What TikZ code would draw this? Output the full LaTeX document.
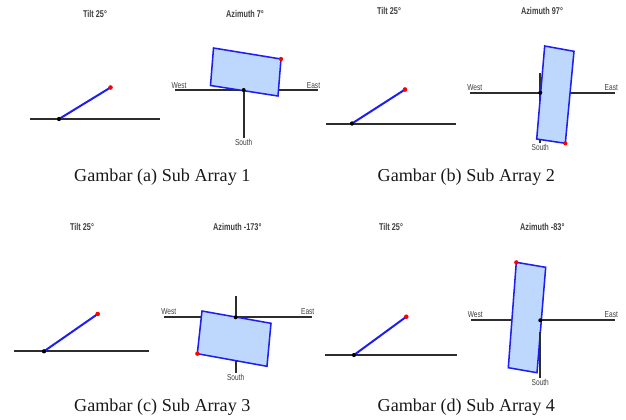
\documentclass[tikz,border=0pt]{standalone}
\usepackage{fontspec}
\setmainfont{Liberation Serif}
\newfontfamily\lblfont{Liberation Sans}
\newcommand{\ttl}[1]{\scalebox{0.74}[1]{\lblfont\bfseries\fontsize{7.4pt}{8pt}\selectfont #1}}
\newcommand{\lbl}[1]{\scalebox{0.76}[1]{\lblfont\fontsize{6.5pt}{7pt}\selectfont #1}}
\definecolor{panel}{RGB}{190,215,252}
\definecolor{edge}{RGB}{30,30,240}
\definecolor{axis}{RGB}{45,45,45}
\tikzset{
  axisline/.style={draw=axis,line width=1.5pt},
  arrayline/.style={draw=edge,line width=1.5pt},
  arraybox/.style={draw=edge,fill=panel,line width=1.15pt,line join=miter},
  hub/.style={fill=black,circle,inner sep=0pt,minimum size=3pt},
  tipdot/.style={fill=red,circle,inner sep=0pt,minimum size=3.2pt},
  caption/.style={font=\fontsize{13.6pt}{16pt}\selectfont,text=black!90,inner sep=0pt},
  plabel/.style={text=black!75,inner sep=0pt}
}
% #1 name, #2 left end, #3 hub, #4 right end (y shared), #5 tip
\newcommand{\tiltview}[5]{%
  \coordinate (#1l) at (#2);\coordinate (#1r) at (#4);
  \node[hub] (#1h) at (#3) {};\node[tipdot] (#1t) at (#5) {};
  \draw[axisline] (#1l) -- (#1r);
  \draw[arrayline] (#1h.center) -- (#1t.center);
  \node[hub] at (#3) {};\node[tipdot] at (#5) {};
}
\begin{document}
\begin{tikzpicture}[x=0.75pt,y=-0.75pt]
\useasboundingbox (0,0) rectangle (626,419);
\fill[white] (0,0) rectangle (626,419);

% (a)
\node[plabel] (ta) at (95,14) {\ttl{Tilt 25°}};
\node[plabel] (aa) at (245,14) {\ttl{Azimuth 7°}};
\tiltview{a}{30,119}{59,119}{160,119}{110.5,87.5}
\coordinate (aw) at (174.5,90);\coordinate (ae) at (318,90);\coordinate (ac) at (243.7,90);\coordinate (as) at (243.7,138);
\draw[axisline] (aw) -- (ae);\draw[axisline] (ac) -- (as);
\draw[arraybox] (213.5,48) -- (281,59) -- (278,96) -- (210.5,85.5) -- cycle;
\node[hub] at (ac) {};\node[tipdot] at (281,59) {};
\node[plabel] (wa) at (179,85.7) {\lbl{West}};
\node[plabel] (ea) at (313.5,85.7) {\lbl{East}};
\node[plabel] (sa) at (243.7,142.3) {\lbl{South}};
\node[caption] (ca) at (162.3,177) {Gambar (a) Sub Array 1};

% (b)
\node[plabel] (tb) at (389,11) {\ttl{Tilt 25°}};
\node[plabel] (ab) at (542,11) {\ttl{Azimuth 97°}};
\tiltview{b}{326,123.5}{352,123.5}{455.7,123.5}{405,89.5}
\coordinate (bw) at (470,92.7);\coordinate (be) at (615,92.7);\coordinate (bc) at (540.3,92.7);\coordinate (bn) at (540.3,73);\coordinate (bs) at (540.3,143);
\draw[axisline] (bw) -- (be);\draw[axisline] (bn) -- (bs);
\draw[arraybox] (544.7,46) -- (574,51.3) -- (565.3,143.3) -- (536.7,139) -- cycle;
\node[hub] at (bc) {};\node[tipdot] at (565.3,143.3) {};
\node[plabel] (wb) at (474.7,87.7) {\lbl{West}};
\node[plabel] (eb) at (611.3,87.7) {\lbl{East}};
\node[plabel] (sb) at (540.3,147.7) {\lbl{South}};
\node[caption] (cb) at (466.3,177) {Gambar (b) Sub Array 2};

% (c)
\node[plabel] (tc) at (82,227.3) {\ttl{Tilt 25°}};
\node[plabel] (ac2) at (237.3,227.3) {\ttl{Azimuth -173°}};
\tiltview{c}{14.3,351.3}{44,351.3}{149.3,351.3}{97.7,314}
\coordinate (cw) at (164,317.3);\coordinate (ce) at (311.7,317.3);\coordinate (cc) at (235.7,317.3);\coordinate (cn) at (235.7,296);\coordinate (cs) at (235.7,373.3);
\draw[axisline] (cw) -- (ce);\draw[axisline] (cn) -- (cs);
\draw[arraybox] (202,311) -- (271,323.3) -- (267,366.3) -- (197.3,353.7) -- cycle;
\node[hub] at (cc) {};\node[tipdot] at (197.3,353.7) {};
\node[plabel] (wc) at (168.7,311.7) {\lbl{West}};
\node[plabel] (ec) at (307.7,311.7) {\lbl{East}};
\node[plabel] (sc) at (235.7,377.7) {\lbl{South}};
\node[caption] (cc3) at (162.3,406.7) {Gambar (c) Sub Array 3};

% (d)
\node[plabel] (td) at (391,227.3) {\ttl{Tilt 25°}};
\node[plabel] (ad) at (542.3,227.3) {\ttl{Azimuth -83°}};
\tiltview{d}{325.3,355}{354,355}{456.7,355}{406.3,316.7}
\coordinate (dw) at (470.7,320.3);\coordinate (de) at (614.7,320.3);\coordinate (dc) at (540.3,320.3);\coordinate (ds) at (540.3,378.3);
\draw[axisline] (dw) -- (de);\draw[axisline] (dc) -- (ds);
\draw[arraybox] (516.3,262.3) -- (545.7,267.3) -- (537,372.7) -- (508.3,367.7) -- cycle;
\draw[axisline] (540.3,332) -- (ds);
\node[hub] at (dc) {};\node[tipdot] at (516.3,262.3) {};
\node[plabel] (wd) at (475.3,314.3) {\lbl{West}};
\node[plabel] (ed) at (611.3,314.3) {\lbl{East}};
\node[plabel] (sd) at (540.3,382.3) {\lbl{South}};
\node[caption] (cd) at (466.3,406.7) {Gambar (d) Sub Array 4};
\end{tikzpicture}
\end{document}
